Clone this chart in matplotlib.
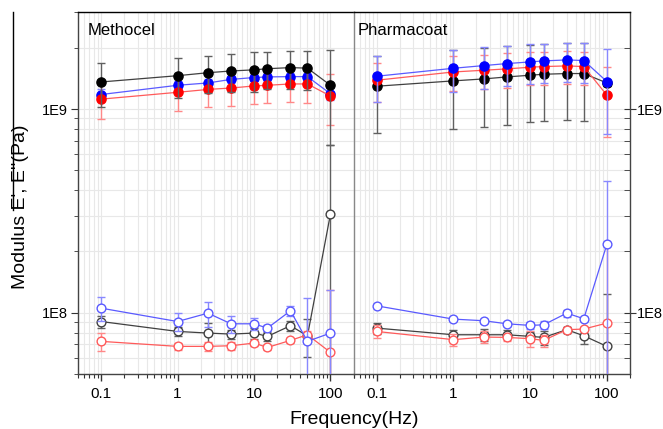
import matplotlib
matplotlib.use('Agg')
import matplotlib.pyplot as plt
from matplotlib.lines import Line2D
from matplotlib.ticker import NullFormatter, LogLocator

plt.rcParams['font.family'] = ['Liberation Sans', 'DejaVu Sans']

freq = [0.1, 1, 2.5, 5, 10, 15, 30, 50, 100]

# Methocel, storage modulus E' (x1e9 Pa)
meth_Ep_k = [1.36, 1.46, 1.51, 1.54, 1.56, 1.58, 1.60, 1.59, 1.31]
meth_Ep_k_err = [0.33, 0.33, 0.31, 0.33, 0.34, 0.33, 0.34, 0.35, 0.64]
meth_Ep_b = [1.18, 1.31, 1.345, 1.40, 1.43, 1.44, 1.445, 1.445, 1.19]
meth_Ep_b_err = [0.07, 0.06, 0.06, 0.06, 0.06, 0.06, 0.06, 0.06, 0.08]
meth_Ep_r = [1.12, 1.21, 1.25, 1.27, 1.30, 1.31, 1.33, 1.33, 1.16]
meth_Ep_r_err = [0.23, 0.23, 0.23, 0.23, 0.24, 0.24, 0.25, 0.26, 0.32]

# Methocel, loss modulus E'' (x1e8 Pa)
meth_Epp_k = [0.906, 0.81, 0.795, 0.786, 0.795, 0.766, 0.864, 0.77, 3.06]
meth_Epp_k_err = [0.06, 0.04, 0.1, 0.04, 0.05, 0.04, 0.05, 0.16, 3.6]
meth_Epp_b = [1.054, 0.906, 0.996, 0.883, 0.883, 0.841, 1.023, 0.724, 0.795]
meth_Epp_b_err = [0.146, 0.09, 0.14, 0.084, 0.06, 0.03, 0.06, 0.456, 0.50]
meth_Epp_r = [0.724, 0.684, 0.684, 0.689, 0.71, 0.676, 0.732, 0.78, 0.639]
meth_Epp_r_err = [0.075, 0.03, 0.035, 0.03, 0.02, 0.02, 0.02, 0.03, 0.66]

# Pharmacoat, E' (x1e9 Pa)
phar_Ep_k = [1.296, 1.377, 1.408, 1.44, 1.468, 1.484, 1.496, 1.496, 1.345]
phar_Ep_k_err = [0.53, 0.58, 0.59, 0.605, 0.605, 0.61, 0.61, 0.62, 0.05]
phar_Ep_b = [1.451, 1.588, 1.637, 1.675, 1.706, 1.726, 1.745, 1.733, 1.366]
phar_Ep_b_err = [0.37, 0.37, 0.38, 0.375, 0.38, 0.375, 0.38, 0.39, 0.61]
phar_Ep_r = [1.387, 1.523, 1.553, 1.577, 1.607, 1.619, 1.631, 1.619, 1.171]
phar_Ep_r_err = [0.3, 0.3, 0.3, 0.3, 0.3, 0.3, 0.3, 0.3, 0.44]

# Pharmacoat, E'' (x1e8 Pa)
phar_Epp_k = [0.841, 0.78, 0.78, 0.78, 0.766, 0.757, 0.826, 0.771, 0.684]
phar_Epp_k_err = [0.05, 0.04, 0.05, 0.04, 0.04, 0.06, 0.03, 0.07, 0.55]
phar_Epp_b = [1.082, 0.931, 0.914, 0.883, 0.867, 0.873, 0.996, 0.935, 2.17]
phar_Epp_b_err = [0.02, 0.02, 0.02, 0.02, 0.03, 0.04, 0.04, 0.02, 2.27]
phar_Epp_r = [0.81, 0.738, 0.76, 0.757, 0.746, 0.732, 0.826, 0.832, 0.89]
phar_Epp_r_err = [0.06, 0.05, 0.05, 0.03, 0.07, 0.05, 0.03, 0.02, 1.3]

styles = {
    'k': dict(line='#404040', err='#606060', mark='black'),
    'r': dict(line='#ff5a5a', err='#ff8888', mark='#ff0000'),
    'b': dict(line='#5a5aff', err='#8888ff', mark='#0000ff'),
}


def series(ax, y, err, scale, c, filled, z):
    st = styles[c]
    yv = [v * scale for v in y]
    ev = [v * scale for v in err]
    ax.errorbar(freq, yv, yerr=ev, fmt='none', ecolor=st['err'], elinewidth=1,
                capsize=3, capthick=1, zorder=z)
    ax.plot(freq, yv, '-', color=st['line'], lw=0.9, zorder=z + 0.1)
    if filled:
        ax.plot(freq, yv, 'o', ms=6.6, mfc=st['mark'], mec=st['mark'], zorder=z + 0.2)
    else:
        ax.plot(freq, yv, 'o', ms=6.3, mfc='white', mec=st['line'], mew=1, zorder=z + 0.2)


fig = plt.figure(figsize=(6.63, 4.29), dpi=100)
ax1 = fig.add_axes([78 / 663, 0.128, 275.5 / 663, 0.844])
ax2 = fig.add_axes([353.5 / 663, 0.128, 276.5 / 663, 0.844])

series(ax1, meth_Ep_b, meth_Ep_b_err, 1e9, 'b', True, 3)
series(ax1, meth_Ep_r, meth_Ep_r_err, 1e9, 'r', True, 4)
series(ax1, meth_Ep_k, meth_Ep_k_err, 1e9, 'k', True, 5)
series(ax1, meth_Epp_k, meth_Epp_k_err, 1e8, 'k', False, 3)
series(ax1, meth_Epp_r, meth_Epp_r_err, 1e8, 'r', False, 4)
series(ax1, meth_Epp_b, meth_Epp_b_err, 1e8, 'b', False, 5)

series(ax2, phar_Ep_k, phar_Ep_k_err, 1e9, 'k', True, 3)
series(ax2, phar_Ep_r, phar_Ep_r_err, 1e9, 'r', True, 4)
series(ax2, phar_Ep_b, phar_Ep_b_err, 1e9, 'b', True, 5)
series(ax2, phar_Epp_k, phar_Epp_k_err, 1e8, 'k', False, 3)
series(ax2, phar_Epp_r, phar_Epp_r_err, 1e8, 'r', False, 4)
series(ax2, phar_Epp_b, phar_Epp_b_err, 1e8, 'b', False, 5)

for ax in (ax1, ax2):
    ax.set_xscale('log')
    ax.set_yscale('log')
    ax.set_xlim(0.05, 200)
    ax.set_ylim(5e7, 3e9)
    ax.set_xticks([0.1, 1, 10, 100])
    ax.set_xticklabels(['0.1', '1', '10', '100'])
    ax.xaxis.set_minor_locator(LogLocator(base=10, subs=range(2, 10), numticks=20))
    ax.xaxis.set_minor_formatter(NullFormatter())
    ax.set_yticks([1e8, 1e9])
    ax.set_yticklabels(['1E8', '1E9'])
    ax.yaxis.set_minor_locator(LogLocator(base=10, subs=range(2, 10), numticks=20))
    ax.yaxis.set_minor_formatter(NullFormatter())
    ax.grid(True, which='both', color='#e8e8e8', lw=0.8)
    ax.set_axisbelow(True)
    ax.tick_params(axis='x', which='major', direction='out', length=5, width=1,
                   labelsize=11, pad=4, color='#333333')
    ax.tick_params(axis='x', which='minor', direction='out', length=3, width=0.8,
                   color='#333333')
    for s in ax.spines.values():
        s.set_color('#444444')
        s.set_linewidth(1)
    ax.spines['top'].set_color('black')

ax1.tick_params(axis='y', which='major', direction='out', length=5, labelsize=10.5,
                pad=2, color='#333333')
ax1.tick_params(axis='y', which='minor', direction='out', length=3, color='#333333')
ax1.spines['right'].set_visible(False)

ax2.yaxis.tick_right()
ax2.tick_params(axis='y', which='major', direction='inout', length=8, labelsize=10.5,
                pad=1, color='#333333')
ax2.tick_params(axis='y', which='minor', direction='in', length=4, color='#333333')
ax2.spines['left'].set_color('#888888')

ax1.text(0.036, 0.97, 'Methocel', transform=ax1.transAxes, va='top', ha='left',
         fontsize=12, zorder=10)
ax2.text(0.016, 0.97, 'Pharmacoat', transform=ax2.transAxes, va='top', ha='left',
         fontsize=12, zorder=10)

fig.text(354 / 663, 0.022, 'Frequency(Hz)', ha='center', va='center', fontsize=14)
fig.text(0.031, 0.517, "Modulus E', E''(Pa)", ha='center', va='center',
         rotation=90, fontsize=14)

fig.add_artist(Line2D([12.5 / 663, 12.5 / 663], [1 - 12 / 429, 1 - 210 / 429],
                      color='black', lw=1))

fig.savefig('out.png', dpi=100)
